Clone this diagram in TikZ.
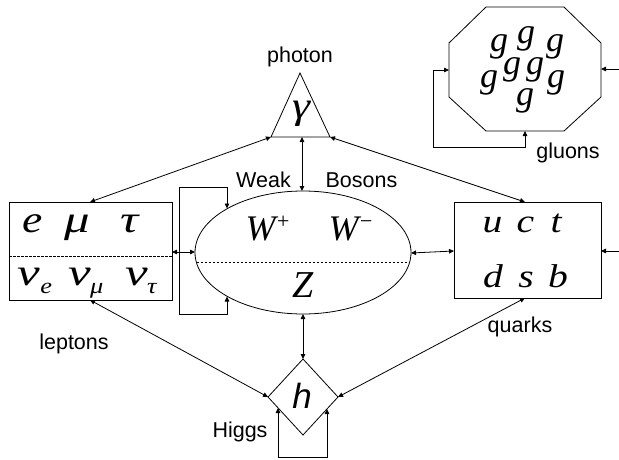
\documentclass[tikz,border=0pt]{standalone}
\usepackage{fontspec}
\setmainfont{Liberation Sans}
\newfontfamily\tms{Liberation Serif}
\usetikzlibrary{arrows.meta,shapes.geometric}
\newcommand{\wx}[1]{\scalebox{1.2}[1]{#1}}
\newcommand{\wg}[1]{\scalebox{1.34}[1]{#1}}
\newcommand{\subs}[1]{\raisebox{-8pt}{\fontsize{22}{22}\selectfont\wx{#1}}}
\begin{document}
\begin{tikzpicture}[x=1pt,y=-1pt,
  line width=0.8pt,
  mytip/.tip={Triangle[length=5pt,width=4.5pt]},
  conn/.style={mytip-mytip},
  inarr/.style={-mytip},
  lbl/.style={font=\fontsize{21.5}{25}\selectfont, inner sep=0pt, anchor=base},
  sym/.style={font=\tms\itshape\fontsize{38}{42}\selectfont, inner sep=0pt, anchor=base},
  glu/.style={font=\tms\itshape\fontsize{36}{40}\selectfont, inner sep=0pt, anchor=center},
  qsym/.style={font=\tms\itshape\fontsize{33}{36}\selectfont, inner sep=0pt, anchor=base},
  box/.style={draw, rectangle, inner sep=0pt},
  dashln/.style={dash pattern=on 2.5pt off 1.5pt, line width=0.6pt}]
\useasboundingbox (0,0) rectangle (619,460);

% ---------- photon triangle
\coordinate (tA) at (300,73);
\coordinate (tL) at (271,137);
\coordinate (tR) at (330,137);
\coordinate (tM) at (302,137);
\draw (tA) -- (tL) -- (tR) -- cycle;
\node[lbl] (photon) at (300,63) {photon};
\node[font=\tms\itshape\fontsize{38}{42}\selectfont, inner sep=0pt] (gam) at (301,114) {\scalebox{1.2}[1]{γ}};

% ---------- leptons box
\node[box, minimum width=163pt, minimum height=98pt] (lep) at (90.5,251) {};
\draw[dashln] (9,256) -- (172,256);
\node[sym] (le) at (32.5,232) {\wx{e}};
\node[sym] (lmu) at (77,232) {\wg{μ}};
\node[sym] (ltau) at (130,232) {\wg{τ}};
\node[sym] (nue) at (35,285) {\wg{ν}\subs{e}};
\node[sym] (numu) at (86,285) {\wg{ν}\kern-1pt\subs{μ}};
\node[sym] (nutau) at (141,285) {\wg{ν}\kern-1pt\subs{τ}};
\node[lbl] (leptons) at (74,349) {leptons};
\coordinate (lepT) at (90,202);
\coordinate (lepB) at (90,300);
\coordinate (lepR) at (172,252);

% ---------- weak bosons ellipse
\node[draw, ellipse, inner sep=0pt, minimum width=216pt, minimum height=123pt] (ell) at (303,252.5) {};
\draw[dashln] (196.5,262) -- (409.5,262);
\node[font=\tms\itshape\fontsize{36}{40}\selectfont, inner sep=0pt, anchor=base] (wp) at (268,240) {W\raisebox{12pt}{\fontsize{22}{22}\selectfont +}};
\node[font=\tms\itshape\fontsize{36}{40}\selectfont, inner sep=0pt, anchor=base] (wm) at (351,240) {W\raisebox{12pt}{\fontsize{22}{22}\selectfont −}};
\node[font=\tms\itshape\fontsize{38}{42}\selectfont, inner sep=0pt, anchor=base] (z) at (303,297) {Z};
\node[lbl] (weak) at (263.5,187) {Weak};
\node[lbl] (bosons) at (361.5,187) {Bosons};
\coordinate (eT) at (302,191);
\coordinate (eB) at (303,314);
\coordinate (eL) at (195,252);
\coordinate (eR) at (411,253);
\coordinate (eUL) at (227,208.5);
\coordinate (eLL) at (227,296.5);
\coordinate (lp1) at (227,187);
\coordinate (lp2) at (179,187);
\coordinate (lp3) at (179,314);
\coordinate (lp4) at (227,314);

% ---------- quarks box
\node[box, minimum width=147pt, minimum height=96pt] (qk) at (527.5,250) {};
\node[qsym] (qu) at (492.5,232) {\wx{u}};
\node[qsym] (qc) at (525.5,232) {\wx{c}};
\node[qsym] (qt) at (556,232) {\wx{t}};
\node[qsym] (qd) at (493,287) {\wx{d}};
\node[qsym] (qs) at (526,287) {\wx{s}};
\node[qsym] (qb) at (558,287) {\wx{b}};
\node[lbl] (quarks) at (520,332) {quarks};
\coordinate (qT) at (525,202);
\coordinate (qB) at (525,298);
\coordinate (qL) at (454,251);
\coordinate (qR) at (601,251);
\coordinate (qIn) at (619,251);

% ---------- Higgs diamond
\coordinate (dT) at (303,359);
\coordinate (dL) at (268,397);
\coordinate (dR) at (338,397);
\coordinate (dB) at (303,435);
\draw (dT) -- (dR) -- (dB) -- (dL) -- cycle;
\node[font=\itshape\fontsize{35}{38}\selectfont, inner sep=0pt, anchor=base] (h) at (302,408) {h};
\node[lbl] (higgs) at (240,437) {Higgs};
\coordinate (dLL) at (278,408);
\coordinate (dLR) at (327,409);
\coordinate (dl1) at (278,457);
\coordinate (dl2) at (327,457);

% ---------- gluon octagon
\draw (486,7) -- (564,7) -- (601,43) -- (601,97) -- (564,131) -- (486,131) -- (449,97) -- (449,43) -- cycle;
\foreach \gx/\gy [count=\i] in {499/46.5,526/38.5,555/46.5,489/83,512/70,535/70,556/83,525/100.5}
  \node[glu] (g\i) at (\gx,\gy) {g};
\node[lbl] (gluons) at (568,158) {gluons};
\coordinate (oL) at (449,70);
\coordinate (oB) at (525,131);
\coordinate (oR) at (601,69);
\coordinate (oIn) at (619,69);
\coordinate (ol1) at (433,70);
\coordinate (ol2) at (433,147);
\coordinate (ol3) at (525,147);

% ---------- connectors
\draw[conn] (tL) -- (lepT);
\draw[conn] (tR) -- (qT);
\draw[conn] (tM) -- (eT);
\draw[conn] (lepR) -- (eL);
\draw[conn] (eR) -- (qL);
\draw[conn] (eB) -- (dT);
\draw[conn] (lepB) -- (dL);
\draw[conn] (qB) -- (dR);
\draw[conn] (eUL) -- (lp1) -- (lp2) -- (lp3) -- (lp4) -- (eLL);
\draw[conn] (dLL) -- (dl1) -- (dl2) -- (dLR);
\draw[conn] (oL) -- (ol1) -- (ol2) -- (ol3) -- (oB);
\draw[inarr] (qIn) -- (qR);
\draw[inarr] (oIn) -- (oR);
\end{tikzpicture}
\end{document}
